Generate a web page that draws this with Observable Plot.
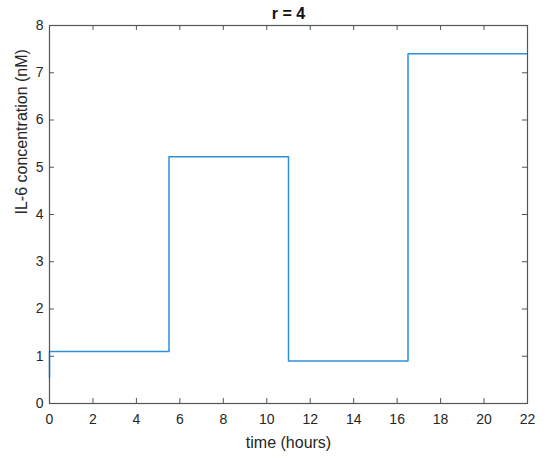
<!DOCTYPE html>
<html>
<head>
<meta charset="utf-8">
<script src="https://cdn.jsdelivr.net/npm/d3@7"></script>
<script src="https://cdn.jsdelivr.net/npm/@observablehq/plot@0.6"></script>
<style>
  html, body { margin: 0; padding: 0; background: #fff; }
  svg { font-family: "Liberation Sans", Arial, Helvetica, sans-serif; }
</style>
</head>
<body>
<div id="chart"></div>
<script>
const titleText = "r = 4";
const xLabel = "time (hours)";
const yLabel = "IL-6 concentration (nM)";
// step boundaries (hours) and the concentration held up to each boundary
const time = [0, 5.5, 11, 16.5, 22];
const conc = [0.55, 1.1, 5.22, 0.9, 7.4];
const xTicks = [0, 2, 4, 6, 8, 10, 12, 14, 16, 18, 20, 22];
const yTicks = [0, 1, 2, 3, 4, 5, 6, 7, 8];

const W = 550, H = 458;
const mL = 49, mR = 23, mT = 25, mB = 55;
const pw = W - mL - mR, ph = H - mT - mB;
const axisColor = "#555";
const textColor = "#262626";
const data = time.map((t, i) => ({t, c: conc[i]}));

const chart = Plot.plot({
  width: W, height: H,
  marginLeft: mL, marginRight: mR, marginTop: mT, marginBottom: mB,
  style: {fontSize: "14px", color: textColor, background: "#fff"},
  x: {domain: [0, 22]},
  y: {domain: [0, 8]},
  marks: [
    Plot.line(data, {x: "t", y: "c", curve: "step-before", stroke: "#2f8fd8", strokeWidth: 1.5}),
    Plot.frame({stroke: axisColor, strokeWidth: 1.2}),
    Plot.tickX(xTicks, {x: d => d, insetTop: ph - 5, stroke: axisColor}),
    Plot.tickX(xTicks, {x: d => d, insetBottom: ph - 5, stroke: axisColor}),
    Plot.tickY(yTicks, {y: d => d, insetRight: pw - 5, stroke: axisColor}),
    Plot.tickY(yTicks, {y: d => d, insetLeft: pw - 5, stroke: axisColor}),
    Plot.axisX(xTicks, {tickSize: 0, tickPadding: 11, label: null, fill: textColor, fontSize: 14}),
    Plot.axisY(yTicks, {tickSize: 0, tickPadding: 6, label: null, fill: textColor, fontSize: 14}),
    Plot.text([titleText], {frameAnchor: "top", lineAnchor: "middle", dy: -12, fontWeight: "bold", fontSize: 16, fill: "#111"}),
    Plot.text([xLabel], {frameAnchor: "bottom", lineAnchor: "middle", dy: 39, fontSize: 16, fill: textColor}),
    Plot.text([yLabel], {frameAnchor: "left", dx: -28, rotate: -90, fontSize: 16, fill: textColor})
  ]
});
document.getElementById("chart").append(chart);
</script>
</body>
</html>
